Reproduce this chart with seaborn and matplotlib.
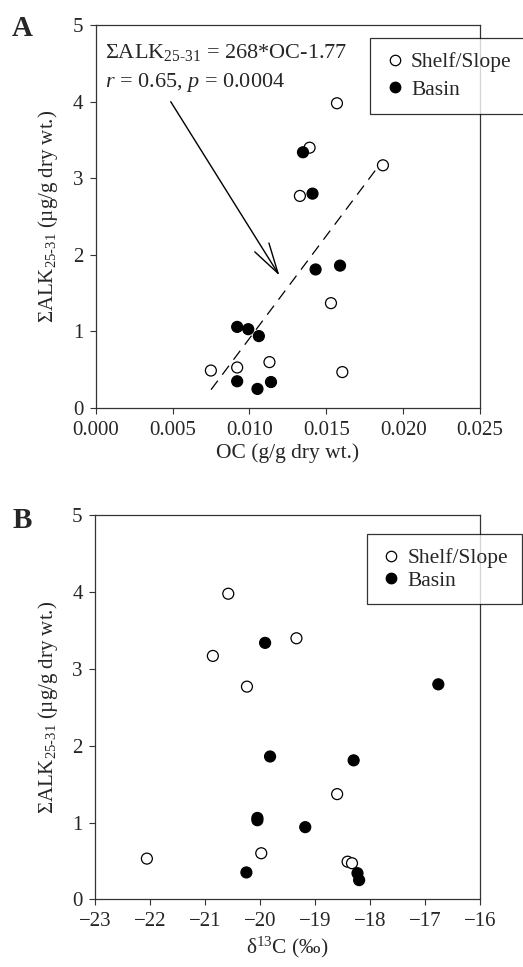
import matplotlib
matplotlib.use('Agg')
import matplotlib.pyplot as plt
import seaborn as sns
import pandas as pd
from matplotlib.lines import Line2D

# Shelf/Slope samples (open circles)
shelf_alk = [3.98, 3.40, 3.17, 2.77, 1.37, 0.60, 0.53, 0.49, 0.47]
shelf_oc = [0.01569, 0.01391, 0.01868, 0.01328, 0.0153, 0.0113, 0.0092, 0.00749, 0.01604]
shelf_d13c = [-20.58, -19.34, -20.86, -20.24, -18.60, -19.98, -22.06, -18.41, -18.33]

# Basin samples (filled circles)
basin_alk = [3.34, 2.80, 1.86, 1.81, 1.06, 1.03, 0.94, 0.35, 0.34, 0.25]
basin_oc = [0.01348, 0.0141, 0.01589, 0.0143, 0.0092, 0.00992, 0.01061, 0.0092, 0.0114, 0.01052]
basin_d13c = [-19.91, -16.76, -19.82, -18.30, -20.05, -20.05, -19.18, -20.25, -18.23, -18.20]

# regression from panel A
slope, intercept = 268, -1.77
fit_oc = [0.0075, 0.0187]

df = pd.DataFrame({
    'site': ['Shelf/Slope'] * len(shelf_alk) + ['Basin'] * len(basin_alk),
    'alk': shelf_alk + basin_alk,
    'oc': shelf_oc + basin_oc,
    'd13c': shelf_d13c + basin_d13c,
})
fit = pd.DataFrame({'oc': fit_oc, 'alk': [slope * x + intercept for x in fit_oc]})

sns.set_style('ticks')
plt.rcParams['font.family'] = ['Liberation Serif', 'DejaVu Serif']
plt.rcParams['mathtext.fontset'] = 'custom'
plt.rcParams['mathtext.rm'] = 'Liberation Serif'
plt.rcParams['mathtext.it'] = 'Liberation Serif:italic'
plt.rcParams['mathtext.bf'] = 'Liberation Serif:bold'
plt.rcParams['font.size'] = 15

palette = {'Shelf/Slope': 'white', 'Basin': 'black'}
ylab = 'ΣALK$_{\\text{25-31}}$ (µg/g dry wt.)'

fig = plt.figure(figsize=(5.23, 9.67), dpi=100)
axA = fig.add_axes([0.183, 0.578, 0.735, 0.396])
axB = fig.add_axes([0.182, 0.070, 0.736, 0.397])

def style_axes(ax):
    for sp in ax.spines.values():
        sp.set_color('#333333')
        sp.set_linewidth(0.9)
    ax.tick_params(direction='out', length=4, width=0.8, pad=5, labelsize=15,
                   top=False, right=False, color='#333333')
    ax.set_ylim(0, 5)
    ax.set_yticks([0, 1, 2, 3, 4, 5])
    ax.set_ylabel(ylab, fontsize=15, labelpad=9)

def add_legend(ax, anchor, spacing):
    handles = [Line2D([], [], marker='o', ls='', markerfacecolor='white',
                      markeredgecolor='black', markeredgewidth=0.9, markersize=7.5),
               Line2D([], [], marker='o', ls='', markerfacecolor='black',
                      markeredgecolor='black', markersize=7.5)]
    leg = ax.legend(handles, ['Shelf/Slope', 'Basin'], loc='upper left',
                    bbox_to_anchor=anchor, frameon=True, fancybox=False,
                    fontsize=15.5, handlelength=1.0, handletextpad=0.25,
                    borderpad=0.65, labelspacing=spacing, borderaxespad=0)
    leg.get_frame().set_edgecolor('black')
    leg.get_frame().set_linewidth(0.9)

# Panel A
sns.lineplot(data=fit, x='oc', y='alk', ax=axA, color='black', lw=0.9,
             dashes=(9, 6), zorder=2)
sns.scatterplot(data=df, x='oc', y='alk', hue='site', palette=palette,
                edgecolor='black', linewidth=0.9, s=62, legend=False, ax=axA, zorder=3)
axA.set_xlim(0, 0.025)
axA.set_xticks([0.0, 0.005, 0.010, 0.015, 0.020, 0.025])
axA.set_xticklabels(['0.000', '0.005', '0.010', '0.015', '0.020', '0.025'])
style_axes(axA)
axA.set_xlabel('OC (g/g dry wt.)', fontsize=15.5, labelpad=3)
axA.text(0.024, 0.914, 'ΣALK$_{\\text{25-31}}$ = 268*OC-1.77',
         transform=axA.transAxes, fontsize=16, va='baseline')
axA.text(0.024, 0.838, '$r$ = 0.65, $p$ = 0.0004',
         transform=axA.transAxes, fontsize=16, va='baseline')
axA.annotate('', xy=(0.01195, 1.73), xytext=(0.00488, 4.0),
             arrowprops=dict(arrowstyle='->,head_length=2.2,head_width=0.6',
                             mutation_scale=10, lw=1.0, color='black',
                             shrinkA=0, shrinkB=0))
add_legend(axA, (0.714, 0.966), 0.35)

# Panel B
sns.scatterplot(data=df, x='d13c', y='alk', hue='site', palette=palette,
                edgecolor='black', linewidth=0.9, s=62, legend=False, ax=axB, zorder=3)
axB.set_xlim(-23, -16)
axB.set_xticks(range(-23, -15))
style_axes(axB)
axB.set_xlabel('δ$^{\\text{13}}$C (‰)', fontsize=15.5, labelpad=3)
add_legend(axB, (0.705, 0.951), 0.1)

fig.text(0.042, 0.971, 'A', fontsize=21, fontweight='bold', ha='center', va='center')
fig.text(0.042, 0.462, 'B', fontsize=21, fontweight='bold', ha='center', va='center')

fig.savefig('out.png', dpi=100)
